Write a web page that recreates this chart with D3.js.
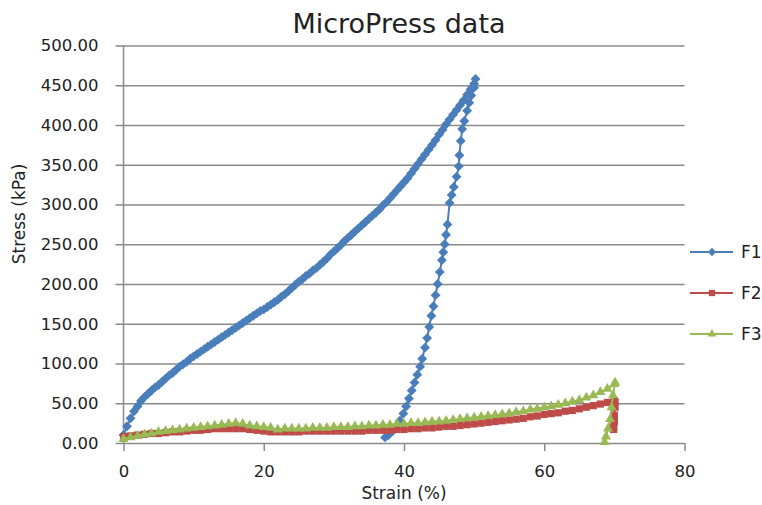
<!DOCTYPE html>
<html lang="en">
<head>
  <meta charset="utf-8">
  <title>MicroPress data</title>
  <script src="https://d3js.org/d3.v7.min.js"></script>
  <style>
    body { margin: 0; background: #ffffff; }
    text { font-family: "DejaVu Sans", sans-serif; fill: #222222; }
  </style>
</head>
<body>
<div id="chart"></div>
<script>

// strain (%) and stress (kPa)
var f1Strain = [0, 0.5, 1, 1.5, 2, 2.5, 3, 3.5, 4, 4.5, 5, 5.5, 6, 6.5, 7, 7.5, 8, 8.5, 9, 9.5,
  10, 10.5, 11, 11.5, 12, 12.5, 13, 13.5, 14, 14.5, 15, 15.5, 16, 16.5, 17, 17.5, 18, 18.5, 19, 19.5,
  20, 20.5, 21, 21.5, 22, 22.5, 23, 23.5, 24, 24.5, 25, 25.5, 26, 26.5, 27, 27.5, 28, 28.5, 29, 29.5,
  30, 30.5, 31, 31.5, 32, 32.5, 33, 33.5, 34, 34.5, 35, 35.5, 36, 36.5, 37, 37.5, 38, 38.5, 39, 39.5,
  40, 40.5, 41, 41.5, 42, 42.5, 43, 43.5, 44, 44.5, 45, 45.5, 46, 46.5, 47, 47.5, 48, 48.5, 49, 49.5,
  50, 50.2,
  // unloading
  50.0, 49.6, 49.3, 49.0, 48.6, 48.3, 48.1, 47.9, 47.8, 47.5, 47.1, 46.8, 46.5, 46.2, 46.0, 45.8,
  45.6, 45.4, 45.1, 44.8, 44.5, 44.2, 43.9, 43.6, 43.3, 43.0, 42.6, 42.3, 41.9, 41.5, 41.1, 40.7,
  40.3, 39.9, 39.4, 38.9, 38.4, 37.8, 37.3];
var f1Stress = [10, 21, 31, 40, 46, 53, 58, 62, 66, 70, 73, 77, 81, 85, 88, 92, 96, 99, 102, 106,
  109, 112, 115, 118, 121, 124, 127, 130, 133, 136, 139, 142, 145, 148, 151, 154, 157, 160, 163, 166,
  168, 171, 174, 177, 180, 184, 187, 191, 195, 199, 203, 206, 210, 213, 217, 220, 224, 228, 232, 237,
  241, 245, 249, 254, 258, 262, 266, 270, 274, 278, 282, 286, 290, 294, 299, 303, 308, 313, 318, 323,
  328, 333, 339, 345, 351, 357, 363, 369, 375, 381, 388, 394, 401, 407, 413, 419, 425, 431, 438, 445,
  452, 458,
  447, 437, 428, 418, 405, 395, 380, 362, 348, 335, 322, 312, 302, 275, 262, 250,
  240, 230, 215, 200, 186, 172, 160, 146, 132, 120, 106, 96, 86, 76, 66, 56,
  46, 37, 28, 21, 15, 10, 7];

var f2Strain = [0, 1, 2, 3, 4, 5, 6, 7, 8, 9, 10, 11, 12, 13, 14, 15, 16, 17, 18, 19,
  20, 21, 22, 23, 24, 25, 26, 27, 28, 29, 30, 31, 32, 33, 34, 35, 36, 37, 38, 39,
  40, 41, 42, 43, 44, 45, 46, 47, 48, 49, 50, 51, 52, 53, 54, 55, 56, 57, 58, 59,
  60, 61, 62, 63, 64, 65, 66, 67, 68, 69, 70,
  70.1, 70.1, 70.0, 70.0, 69.9, 69.9];
var f2Stress = [8, 9, 10, 11, 12, 12, 13, 14, 14, 15, 16, 16, 17, 18, 18, 18, 18, 18, 17, 16,
  15, 14, 14, 14, 14, 14, 15, 15, 15, 15, 15, 15, 15, 15, 15, 16, 16, 16, 16, 17,
  17, 18, 18, 19, 19, 20, 21, 21, 22, 23, 24, 25, 26, 27, 28, 29, 30, 31, 33, 34,
  36, 37, 38, 40, 41, 43, 45, 47, 49, 51, 53,
  52, 45, 35, 27, 20, 17];

var f3Strain = [0, 1, 2, 3, 4, 5, 6, 7, 8, 9, 10, 11, 12, 13, 14, 15, 16, 17, 18, 19,
  20, 21, 22, 23, 24, 25, 26, 27, 28, 29, 30, 31, 32, 33, 34, 35, 36, 37, 38, 39,
  40, 41, 42, 43, 44, 45, 46, 47, 48, 49, 50, 51, 52, 53, 54, 55, 56, 57, 58, 59,
  60, 61, 62, 63, 64, 65, 66, 67, 68, 69, 70,
  70.1, 69.8, 69.6, 69.4, 69.1, 68.8, 68.6];
var f3Stress = [5, 7, 9, 11, 12, 14, 15, 16, 17, 18, 19, 20, 21, 22, 23, 24, 25, 24, 22, 21,
  20, 19, 17, 18, 18, 18, 18, 19, 19, 19, 20, 20, 20, 21, 21, 22, 22, 23, 23, 24,
  24, 25, 25, 26, 27, 27, 28, 29, 30, 31, 32, 33, 34, 35, 36, 37, 39, 40, 42, 43,
  45, 46, 48, 50, 52, 54, 57, 60, 64, 68, 74,
  76, 60, 45, 30, 18, 8, 1];

var seriesNames = ["F1", "F2", "F3"];
var seriesColors = ["#4a7ebb", "#be4b48", "#98b954"];
var xTicks = [0, 20, 40, 60, 80];
var yTicks = [0, 50, 100, 150, 200, 250, 300, 350, 400, 450, 500];

// build the series table from the arrays above
function pairs(xs, ys) {
  return xs.map(function(v, i) { return {x: v, y: ys[i]}; });
}
var series = [
  {name: seriesNames[0], color: seriesColors[0], symbol: d3.symbolDiamond2, size: 62, legendSize: 44, pts: pairs(f1Strain, f1Stress)},
  {name: seriesNames[1], color: seriesColors[1], symbol: d3.symbolSquare, size: 52, legendSize: 40, pts: pairs(f2Strain, f2Stress)},
  {name: seriesNames[2], color: seriesColors[2], symbol: d3.symbolTriangle, size: 44, legendSize: 32, pts: pairs(f3Strain, f3Stress)}
];

var W = 762, H = 505;
var plot = {left: 123.5, right: 684.5, top: 45.5, bottom: 443};

var svg = d3.select("#chart").append("svg")
  .attr("width", W)
  .attr("height", H);

svg.append("rect").attr("width", W).attr("height", H).attr("fill", "#ffffff");

var x = d3.scaleLinear().domain([0, 80]).range([plot.left, plot.right]);
var y = d3.scaleLinear().domain([0, 500]).range([plot.bottom, plot.top]);

var gridColor = "#8a8a8a";

// horizontal gridlines + y labels
var yAxis = svg.append("g")
  .attr("transform", "translate(" + plot.left + ",0)")
  .call(d3.axisLeft(y).tickValues(yTicks).tickFormat(d3.format(".2f"))
    .tickSizeInner(-(plot.right - plot.left)).tickSizeOuter(0).tickPadding(0));
yAxis.select(".domain").remove();
yAxis.selectAll(".tick line")
  .attr("x1", -8)
  .attr("stroke", gridColor)
  .attr("stroke-width", 1.5);
yAxis.selectAll(".tick text")
  .attr("x", -25)
  .attr("font-size", 16.5)
  .attr("font-family", "DejaVu Sans")
  .attr("fill", "#222");

// vertical axis line
svg.append("line")
  .attr("x1", plot.left).attr("x2", plot.left)
  .attr("y1", plot.top).attr("y2", plot.bottom)
  .attr("stroke", gridColor).attr("stroke-width", 1.5);

// x axis
var xAxis = svg.append("g")
  .attr("transform", "translate(0," + plot.bottom + ")")
  .call(d3.axisBottom(x).tickValues(xTicks).tickSizeInner(8).tickSizeOuter(0).tickPadding(14));
xAxis.select(".domain").remove();
xAxis.selectAll(".tick line").attr("stroke", gridColor).attr("stroke-width", 1.5);
xAxis.selectAll(".tick text")
  .attr("font-size", 16.5)
  .attr("font-family", "DejaVu Sans")
  .attr("fill", "#222");

// titles
svg.append("text")
  .attr("x", 399).attr("y", 33)
  .attr("text-anchor", "middle")
  .attr("font-size", 27)
  .attr("fill", "#111")
  .text("MicroPress data");

svg.append("text")
  .attr("x", 404).attr("y", 499)
  .attr("text-anchor", "middle")
  .attr("font-size", 17)
  .text("Strain (%)");

svg.append("text")
  .attr("transform", "translate(25,214) rotate(-90)")
  .attr("text-anchor", "middle")
  .attr("font-size", 17)
  .text("Stress (kPa)");

// series: thin line plus dense markers
var line = d3.line()
  .x(function(d) { return x(d.x); })
  .y(function(d) { return y(d.y); });

series.forEach(function(s) {
  var g = svg.append("g");
  g.append("path")
    .attr("d", line(s.pts))
    .attr("fill", "none")
    .attr("stroke", s.color)
    .attr("stroke-width", 2);
  g.selectAll("path.mk")
    .data(s.pts)
    .enter()
    .append("path")
      .attr("class", "mk")
      .attr("d", d3.symbol().type(s.symbol).size(s.size))
      .attr("transform", function(d) { return "translate(" + x(d.x) + "," + y(d.y) + ")"; })
      .attr("fill", s.color);
});

// legend
var legend = svg.append("g");
series.forEach(function(s, i) {
  var ly = 252 + i * 41;
  legend.append("line")
    .attr("x1", 690).attr("x2", 733)
    .attr("y1", ly).attr("y2", ly)
    .attr("stroke", s.color).attr("stroke-width", 2);
  legend.append("path")
    .attr("d", d3.symbol().type(s.symbol).size(s.legendSize))
    .attr("transform", "translate(712," + ly + ")")
    .attr("fill", s.color);
  legend.append("text")
    .attr("x", 741).attr("y", ly + 6)
    .attr("font-size", 17)
    .text(s.name);
});

</script>
</body>
</html>
